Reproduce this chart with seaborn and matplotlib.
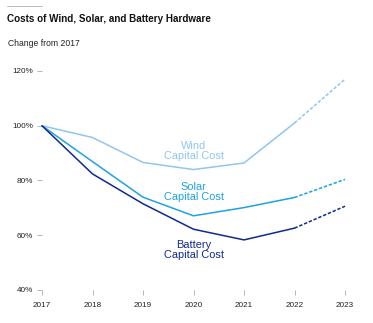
import matplotlib
matplotlib.use("Agg")
import matplotlib.pyplot as plt
import seaborn as sns
import pandas as pd
from matplotlib.lines import Line2D

years = [2017, 2018, 2019, 2020, 2021, 2022, 2023]
wind = [100, 95.7, 86.6, 84.0, 86.4, 101.0, 117.0]
solar = [100, 86.9, 73.9, 67.1, 70.1, 73.8, 80.4]
battery = [100, 82.4, 71.5, 62.2, 58.3, 62.6, 70.6]
series_names = ["Wind", "Solar", "Battery"]
label_texts = ["Wind\nCapital Cost", "Solar\nCapital Cost", "Battery\nCapital Cost"]
label_values = [90.8, 75.8, 54.6]
label_year = 2020
yticks = [40, 60, 80, 100, 120]
ytick_labels = ["40%", "60%", "80%", "100%", "120%"]
last_actual = 2022

colors = {"Wind": "#90c6ee", "Solar": "#1ea2e4", "Battery": "#0e2a8e"}

rows = []
for name, vals in zip(series_names, [wind, solar, battery]):
    for y, v in zip(years, vals):
        rows.append({"year": y, "value": v, "series": name})
df = pd.DataFrame(rows)

sns.set_theme(style="white")
plt.rcParams["font.family"] = ["Liberation Sans", "DejaVu Sans"]

fig = plt.figure(figsize=(3.73, 3.23), dpi=100)
ax = fig.add_axes([42 / 373, 1 - 290 / 323, (345 - 42) / 373, (290 - 71) / 323])

solid = df[df["year"] <= last_actual]
dashed = df[df["year"] >= last_actual]
sns.lineplot(data=solid, x="year", y="value", hue="series", palette=colors,
             linewidth=1.1, legend=False, ax=ax, estimator=None)
sns.lineplot(data=dashed, x="year", y="value", hue="series", palette=colors,
             linewidth=1.1, legend=False, ax=ax, estimator=None)
n = len(series_names)
for line in ax.lines[n:]:
    line.set_linestyle((0, (2.2, 1.2)))
for line in ax.lines:
    line.set_clip_on(False)

for name, txt, v in zip(series_names, label_texts, label_values):
    ax.text(label_year, v, txt, color=colors[name], ha="center", va="center",
            fontsize=7.9, linespacing=1.1)

ax.set_xlim(years[0], years[-1])
ax.set_ylim(yticks[0], yticks[-1])
ax.set_xticks(years)
ax.set_xticklabels([str(y) for y in years])
ax.set_yticks(yticks)
ax.set_yticklabels(ytick_labels)
ax.set_xlabel("")
ax.set_ylabel("")
for s in ax.spines.values():
    s.set_visible(False)
ax.tick_params(axis="both", which="both", length=3.5, width=0.6, color="#aaaaaa",
               labelsize=5.9, labelcolor="#222222", pad=3, left=True, bottom=True)
ax.tick_params(axis="x", pad=5)
ax.grid(False)

fig.add_artist(Line2D([7 / 373, 42 / 373], [1 - 6 / 323, 1 - 6 / 323],
                      color="#bbbbbb", linewidth=0.7))
fig.text(7 / 373, 1 - 19 / 323, "Costs of Wind, Solar, and Battery Hardware",
         fontsize=7.1, fontweight="bold", color="#111111", ha="left", va="center")
fig.text(8 / 373, 1 - 43 / 323, "Change from 2017", fontsize=6.2,
         color="#222222", ha="left", va="center")

fig.savefig("out.png", dpi=100)
